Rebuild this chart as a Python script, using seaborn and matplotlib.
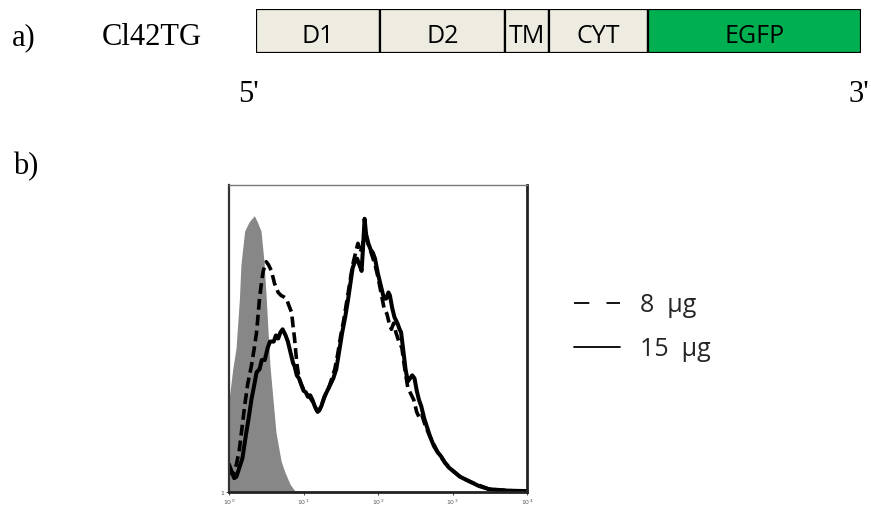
import numpy as np
import matplotlib
matplotlib.use('Agg')
import matplotlib.pyplot as plt
import seaborn as sns
from matplotlib.lines import Line2D

# Construct map (relative segment lengths)
segments = ['D1', 'D2', 'TM', 'CYT', 'EGFP']
seg_len = [124, 125, 44, 99, 213]
seg_colors = ['#EEECE1', '#EEECE1', '#EEECE1', '#EEECE1', '#00B050']

# Flow histograms: log10 fluorescence vs counts (% of max)
ctrl_log = [0.00, 0.01, 0.05, 0.095, 0.14, 0.16, 0.21, 0.27, 0.34, 0.38, 0.43, 0.47,
            0.50, 0.55, 0.63, 0.70, 0.75, 0.82, 0.88, 1.00, 4.00]
ctrl_cnt = [30, 32, 40, 47, 63, 74, 85, 88, 90, 88, 85, 75,
            63, 41, 19.5, 10, 6.5, 2.5, 0.5, 0.2, 0.0]

ug15_log = [0.00, 0.03, 0.07, 0.10, 0.14, 0.18, 0.23, 0.27, 0.30, 0.34, 0.37, 0.41, 0.44,
            0.48, 0.52, 0.55, 0.60, 0.63, 0.66, 0.69, 0.72, 0.76, 0.79, 0.83, 0.86, 0.88,
            0.91, 0.94, 0.97, 1.00, 1.03, 1.06, 1.09, 1.12, 1.15, 1.18, 1.21, 1.24, 1.28,
            1.32, 1.36, 1.40, 1.44, 1.48, 1.52, 1.56, 1.60, 1.63, 1.66, 1.69, 1.72, 1.75,
            1.78, 1.80, 1.82, 1.84, 1.87, 1.90, 1.93, 1.96, 2.00, 2.04, 2.08, 2.11, 2.14,
            2.16, 2.19, 2.22, 2.26, 2.29, 2.31, 2.34, 2.37, 2.40, 2.43, 2.46, 2.49, 2.52,
            2.55, 2.58, 2.62, 2.66, 2.70, 2.75, 2.80, 2.85, 2.90, 2.95, 3.00, 3.05, 3.10,
            3.18, 3.25, 3.35, 3.48, 3.60, 3.80, 4.00]
ug15_cnt = [9, 7, 4.5, 5, 8, 11, 19, 25, 30, 35, 39, 40, 43,
            43, 47, 49, 49, 51, 50, 52, 53, 51, 49, 45, 42, 41,
            38, 37, 35, 33, 32.5, 31, 31.5, 30, 28, 26.5, 26.5, 28, 31,
            33, 35, 37, 40, 46, 52, 57, 63, 68, 73, 75, 76, 74,
            72, 80, 89, 84, 81, 79, 78, 76, 71, 67, 63, 63, 65,
            64, 60, 57, 55, 53, 52, 46, 40, 36, 37, 38, 37, 33,
            30, 28, 24, 21, 18, 15, 13, 11.5, 9.5, 8, 7, 6, 5,
            4, 3.2, 2, 1, 0.6, 0.4, 0.3]

ug8_log = [0.00, 0.03, 0.06, 0.10, 0.14, 0.17, 0.21, 0.25, 0.30, 0.34, 0.37, 0.41, 0.44,
           0.46, 0.50, 0.53, 0.57, 0.61, 0.66, 0.70, 0.74, 0.77, 0.80, 0.84, 0.86, 0.88,
           0.91, 0.94, 0.97, 1.00, 1.04, 1.08, 1.12, 1.16, 1.19, 1.22, 1.26, 1.30, 1.34,
           1.38, 1.42, 1.46, 1.50, 1.54, 1.58, 1.62, 1.66, 1.70, 1.73, 1.76, 1.79, 1.82,
           1.85, 1.88, 1.92, 1.96, 2.00, 2.04, 2.08, 2.12, 2.15, 2.18, 2.21, 2.24, 2.28,
           2.32, 2.36, 2.40, 2.44, 2.48, 2.52, 2.56, 2.59, 2.63, 2.68, 2.72, 2.80, 2.90,
           3.00, 3.10, 3.25, 3.48, 3.80, 4.00]
ug8_cnt = [8, 6, 6, 9, 14, 20, 28, 35, 41, 47, 52, 63, 69,
           72, 75, 74, 72, 68, 65, 64, 63.5, 63, 61, 58.5, 54, 50,
           42, 37, 35, 33.5, 32, 31, 29.5, 27.5, 26, 27, 29.5, 32, 34,
           37, 40, 45, 51, 56, 62, 68, 74, 78, 81, 78, 80, 86,
           82, 80, 77, 74, 70, 65, 60, 58, 55, 53, 55, 52, 49,
           47, 40, 34, 32, 30, 26, 24, 25, 22, 19, 17, 13, 9.5,
           7, 5, 3.2, 1, 0.4, 0.3]

W, H = 871, 506
fig = plt.figure(figsize=(W / 100, H / 100), dpi=100)
sns.set_style('white')


def px(x, y):
    return x / W, 1 - y / H


serif = dict(family='Liberation Serif', fontsize=22, color='black', va='baseline')
fig.text(*px(12, 45), 'a)', **serif)
fig.text(*px(102, 45), 'Cl42TG', **serif)
fig.text(*px(238, 102), "5'", **serif)
fig.text(*px(848, 102), "3'", **serif)
fig.text(*px(13, 174), 'b)', **serif)

# construct bar
axc = fig.add_axes([256 / W, 1 - 54 / H, (861 - 256) / W, 44 / H])
starts = np.concatenate([[0], np.cumsum(seg_len)[:-1]])
axc.barh(0, seg_len, left=starts, height=1, color=seg_colors,
         edgecolor='black', linewidth=1.6)
for name, s, l in zip(segments, starts, seg_len):
    axc.text(s + l / 2, -0.1, name, ha='center', va='center',
             family='Open Sans', fontsize=18, color='black')
axc.set_xlim(0, sum(seg_len))
axc.set_ylim(-0.5, 0.5)
axc.axis('off')

# histogram
ax = fig.add_axes([229 / W, 1 - 493 / H, (527 - 229) / W, (493 - 186) / H])
ctrl_x = 10 ** np.array(ctrl_log)
ax.fill_between(ctrl_x, ctrl_cnt, 0, color='#878787', linewidth=0)
sns.lineplot(x=10 ** np.array(ug8_log), y=ug8_cnt, ax=ax, color='black',
             linewidth=2.6, dashes=False, estimator=None, sort=False)
ax.lines[-1].set_dashes((3, 1.4))
sns.lineplot(x=10 ** np.array(ug15_log), y=ug15_cnt, ax=ax, color='black',
             linewidth=2.9, estimator=None, sort=False)
ax.set_xscale('log')
ax.set_xlim(1, 1e4)
ax.set_ylim(0, 100)
ax.set_xticks([1, 10, 100, 1000, 10000])
ax.set_xticklabels([r'$10^0$', r'$10^1$', r'$10^2$', r'$10^3$', r'$10^4$'])
ax.minorticks_off()
ax.set_yticks([0])
ax.set_yticklabels(['1'])
ax.tick_params(labelsize=4.5, labelcolor='#555555', length=2, width=0.6, pad=1.5,
               bottom=True, left=True)
ax.set_xlabel('')
ax.set_ylabel('')
for side, lw, col in [('top', 1.0, '#777777'), ('left', 1.6, '#333333'),
                      ('right', 2.0, '#222222'), ('bottom', 2.0, '#222222')]:
    ax.spines[side].set_visible(True)
    ax.spines[side].set_linewidth(lw)
    ax.spines[side].set_color(col)

handles = [Line2D([], [], color='black', linewidth=1.3, dashes=(8.5, 9.5)),
           Line2D([], [], color='black', linewidth=1.3)]
fig.legend(handles, ['8  µg', '15  µg'], loc='upper left',
           bbox_to_anchor=px(551, 271), frameon=False,
           prop=dict(family='Open Sans', size=18), handlelength=1.85,
           handletextpad=0.8, labelspacing=0.75)

fig.savefig('out.png', dpi=100)
